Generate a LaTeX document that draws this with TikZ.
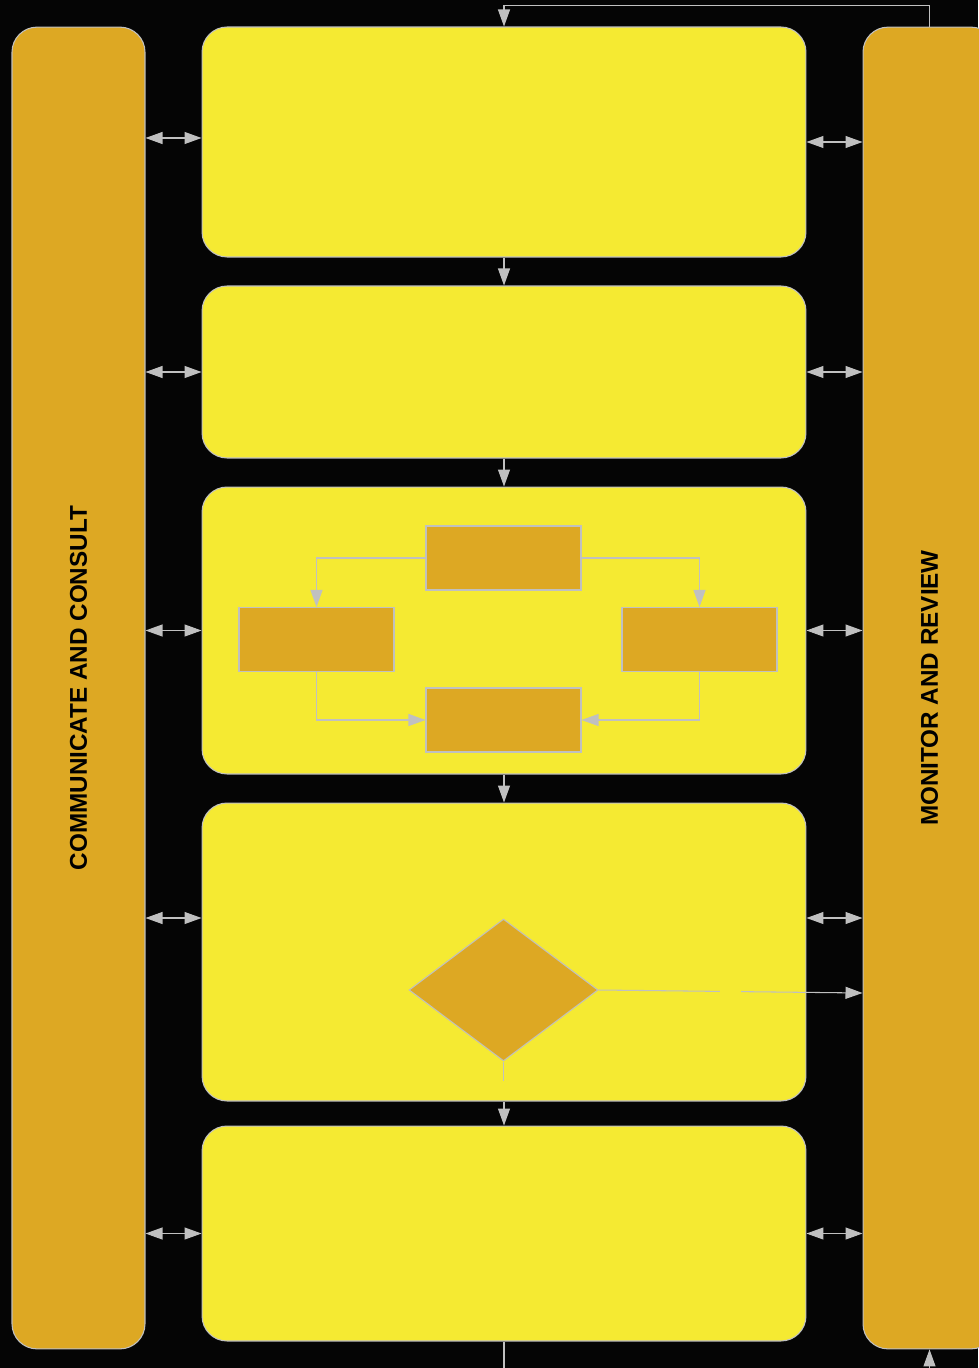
\documentclass[tikz,border=0pt]{standalone}
\usepackage{fontspec}
\setmainfont{Liberation Sans}
\usetikzlibrary{arrows.meta,shapes.geometric}
\definecolor{stageyellow}{RGB}{245,234,50}
\definecolor{baramber}{RGB}{221,168,35}
\definecolor{linegray}{RGB}{192,192,192}
\begin{document}
\begin{tikzpicture}[
        x=0.02cm, y=-0.02cm,
        >={Triangle[length=0.34cm, width=0.24cm]},
        stage/.style = {draw=linegray, fill=stageyellow, rounded corners=0.5cm, minimum width=12.08cm, inner sep=0pt},
        bar/.style = {draw=linegray, fill=baramber, rounded corners=0.5cm, minimum width=2.66cm, minimum height=26.44cm, inner sep=0pt},
        barlabel/.style = {rotate=90, font=\fontsize{13.8}{16}\selectfont\bfseries},
        subbox/.style = {draw=linegray, fill=baramber, minimum width=3.1cm, minimum height=1.28cm, inner sep=0pt},
        decision/.style = {diamond, draw=linegray, fill=baramber, minimum width=3.78cm, minimum height=2.84cm, inner sep=0pt},
        link/.style = {draw=linegray, ->},
        line width=0.6pt
    ]
        \useasboundingbox (0,0) rectangle (978,1368);
        \fill[black!98] (0,0) rectangle (978,1368);
        % side bars
        \node[bar] (comm) at (78.5,688) {};
        \node[bar] (monitor) at (929.5,688) {};
        \node[barlabel] (commtext) at (comm) {COMMUNICATE AND CONSULT};
        \node[barlabel] (monitortext) at (monitor) {MONITOR AND REVIEW};
        % process stages
        \node[stage, minimum height=4.6cm] (context) at (504,142) {};
        \node[stage, minimum height=3.44cm] (identify) at (504,372) {};
        \node[stage, minimum height=5.74cm] (analyse) at (504,630.5) {};
        \node[stage, minimum height=5.96cm] (evaluate) at (504,952) {};
        \node[stage, minimum height=4.3cm] (treat) at (504,1233.5) {};
        % inside the analysis stage
        \node[subbox] (risks) at (503.5,558) {};
        \node[subbox] (likelihood) at (316.5,639.5) {};
        \node[subbox] (consequence) at (699.5,639.5) {};
        \node[subbox] (level) at (503.5,720) {};
        \draw[link] (risks.west) -| (likelihood.north);
        \draw[link] (risks.east) -| (consequence.north);
        \draw[link] (likelihood.south) |- (level.west);
        \draw[link] (consequence.south) |- (level.east);
        % decision inside the evaluation stage
        \node[decision] (accept) at (503.5,990) {};
        \draw[link] (accept.east) -- node[fill=stageyellow, inner sep=0pt, minimum width=0.42cm, minimum height=0.12cm] (acceptgap) {} ([yshift=-0.06cm]accept.east -| monitor.west);
        \draw[draw=linegray] (accept.south) -- ++(0,19) coordinate (acceptout);
        % flow between stages
        \foreach \a/\b in {context/identify, identify/analyse, analyse/evaluate, evaluate/treat}
            \draw[link] (\a.south) -- (\b.north);
        \draw[link] (monitor.north) -- ++(0,-21) -| (context.north);
        \draw[link] (treat.south) -- ++(0,60) -| (monitor.south);
        % links to the side bars
        \foreach \s in {identify, analyse, treat} {
            \draw[link, <->] (comm.east |- \s.west) -- (\s.west);
            \draw[link, <->] (\s.east) -- (monitor.west |- \s.east);
        }
        \draw[link, <->] (comm.east |- 0,138) -- (context.west |- 0,138);
        \draw[link, <->] (context.east) -- (monitor.west |- context.east);
        \draw[link, <->] (comm.east |- 0,918) -- (evaluate.west |- 0,918);
        \draw[link, <->] (evaluate.east |- 0,918) -- (monitor.west |- 0,918);
\end{tikzpicture}
\end{document}
